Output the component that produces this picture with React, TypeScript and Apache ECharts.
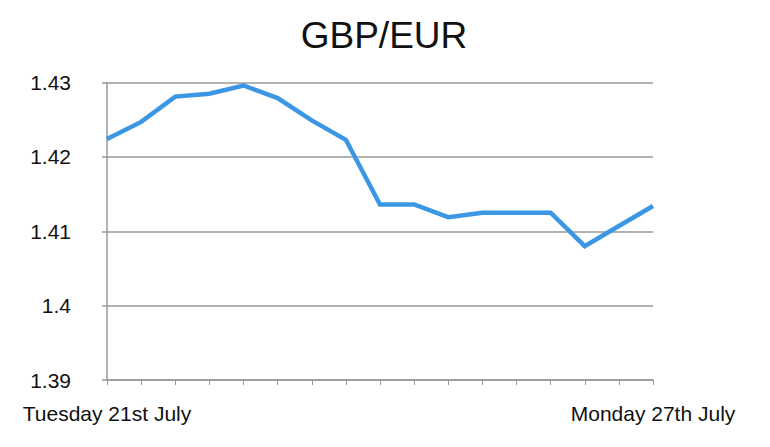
import React, { useEffect, useRef } from "react";
import * as echarts from "echarts";

const categories = [
  "Tuesday 21st July", "", "", "", "", "", "", "", "", "", "", "", "", "", "", "", "Monday 27th July",
];
const rates = [
  1.4224, 1.4247, 1.4281, 1.4285, 1.4296, 1.4279, 1.4249, 1.4223,
  1.4136, 1.4136, 1.4119, 1.4125, 1.4125, 1.4125, 1.408, 1.4107, 1.4134,
];
const yTicks = [1.39, 1.4, 1.41, 1.42, 1.43];
const titleText = "GBP/EUR";

export default function App() {
  const ref = useRef<HTMLDivElement>(null);
  useEffect(() => {
    if (!ref.current) return;
    const chart = echarts.init(ref.current, undefined, { renderer: "svg" });
    const font = "'Liberation Sans', Arial, Helvetica, sans-serif";
    chart.setOption({
      animation: false,
      backgroundColor: "#ffffff",
      title: {
        text: titleText,
        left: 379,
        top: 12,
        textAlign: "center",
        textStyle: { fontFamily: font, fontSize: 37, fontWeight: "normal", color: "#111" },
      },
      grid: { left: 107, right: 117, top: 82.5, bottom: 67, containLabel: false },
      xAxis: {
        type: "category",
        data: categories,
        boundaryGap: false,
        axisLine: { show: true, lineStyle: { color: "#999", width: 1.5 } },
        axisTick: { show: true, length: 5, interval: 0, lineStyle: { color: "#999", width: 1 } },
        axisLabel: {
          interval: 0,
          margin: 23,
          fontFamily: font,
          fontSize: 21,
          color: "#111",
        },
        splitLine: { show: false },
      },
      yAxis: {
        type: "value",
        min: 1.39,
        max: 1.43,
        interval: 0.01,
        axisLine: { show: true, lineStyle: { color: "#999", width: 1.5 } },
        axisTick: { show: true, length: 5, lineStyle: { color: "#999", width: 1.5 } },
        axisLabel: {
          margin: 36,
          fontFamily: font,
          fontSize: 21,
          color: "#111",
          formatter: (v: number) => {
            const t = yTicks.find((x) => Math.abs(x - v) < 1e-6);
            return t === undefined ? "" : String(parseFloat(t.toFixed(2)));
          },
        },
        splitLine: { show: true, lineStyle: { color: "#999", width: 1.5 } },
      },
      series: [
        {
          type: "line",
          data: rates,
          symbol: "none",
          lineStyle: { color: "#3b97e3", width: 4.5, join: "miter" },
        },
      ],
    });
    return () => chart.dispose();
  }, []);
  return <div ref={ref} style={{ width: 770, height: 447, marginLeft: -8, marginTop: -8 }} />;
}
